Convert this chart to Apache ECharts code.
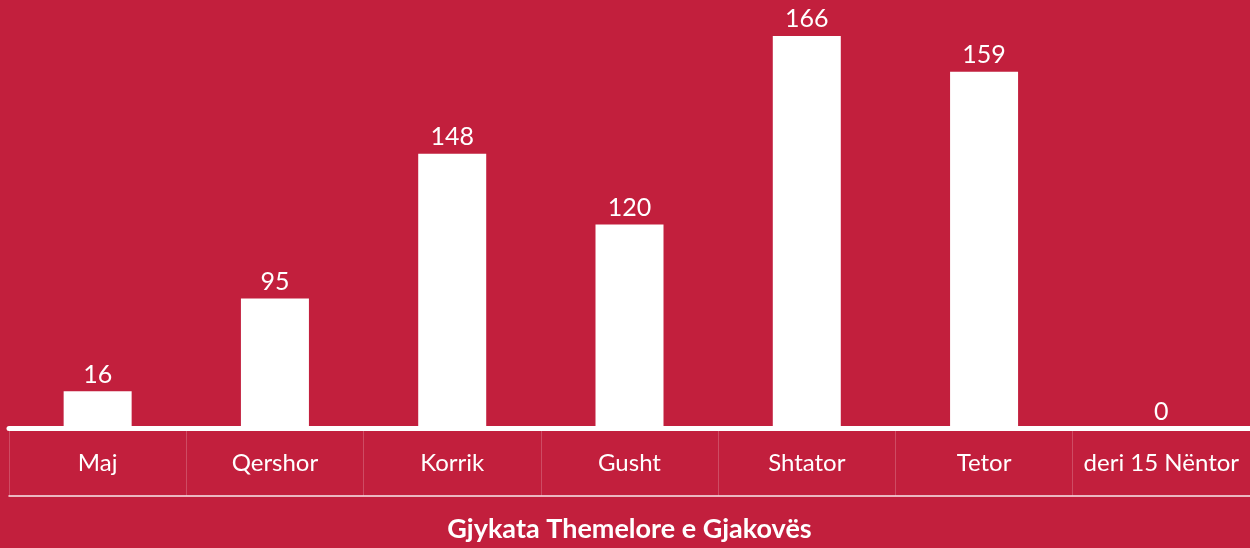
<!DOCTYPE html>
<html>
<head>
<meta charset="utf-8">
<style>
  html, body { margin: 0; padding: 0; background: #c21f3d; }
  #container { width: 1250px; height: 548px; }
</style>
<script src="https://cdn.jsdelivr.net/npm/echarts@6/dist/echarts.min.js"></script>
</head>
<body>
<div id="container"></div>
<script>
var dom = document.getElementById('container');
var myChart = echarts.init(dom);

let months = ['Maj', 'Qershor', 'Korrik', 'Gusht', 'Shtator', 'Tetor', 'deri 15 Nëntor'];
// numbers printed above the bars
let printedValues = [16, 95, 148, 120, 166, 159, 0];
// bar heights as drawn in the picture (not proportional to the printed numbers)
let barHeights = [15.8, 55, 116.2, 86.3, 166, 150.8, 0];
let courtName = 'Gjykata Themelore e Gjakovës';

option = {
    backgroundColor: '#c21f3d',
    textStyle: {
        fontFamily: 'Lato'
    },
    grid: {
        top: 2.8,
        bottom: 118.5,
        left: 9,
        right: 0
    },
    xAxis: [{
        type: 'category',
        data: months,
        axisLine: {
            lineStyle: {
                color: '#ffffff',
                width: 5
            }
        },
        // thin dividers between the month cells
        axisTick: {
            show: true,
            interval: 0,
            length: 67,
            lineStyle: {
                color: 'rgba(255,255,255,0.2)',
                width: 1
            }
        },
        axisLabel: {
            interval: 0,
            color: '#ffffff',
            fontSize: 24,
            margin: 23
        }
    }, {
        type: 'category',
        data: months,
        position: 'bottom',
        offset: 67.5,
        axisLine: {
            lineStyle: {
                color: 'rgba(255,255,255,0.9)',
                width: 1.5
            }
        },
        axisTick: { show: false },
        axisLabel: { show: false },
        name: courtName,
        nameLocation: 'middle',
        nameGap: 20,
        nameTextStyle: {
            color: '#ffffff',
            fontSize: 27,
            fontWeight: 'bold'
        }
    }],
    yAxis: {
        type: 'value',
        min: 0,
        max: 180,
        show: false,
        splitLine: { show: false }
    },
    series: [{
        type: 'bar',
        barWidth: 68,
        itemStyle: {
            color: '#ffffff'
        },
        label: {
            show: true,
            position: 'top',
            distance: 4,
            color: '#ffffff',
            fontSize: 25,
            formatter: function (p) {
                return printedValues[p.dataIndex];
            }
        },
        data: barHeights
    }]
};
myChart.setOption(option);

window.addEventListener('resize', function () {
    myChart.resize();
});
</script>
</body>
</html>
